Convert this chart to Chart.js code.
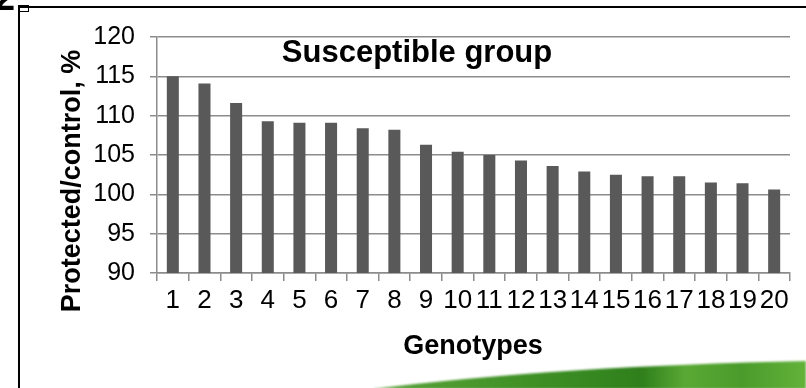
<!DOCTYPE html>
<html>
<head>
<meta charset="utf-8">
<script src="https://cdn.jsdelivr.net/npm/chart.js@4.4.1/dist/chart.umd.min.js"></script>
<style>
  html, body { margin: 0; padding: 0; background: #fff; }
  #wrap { width: 806px; height: 388px; }
</style>
</head>
<body>
<div id="wrap"><canvas id="c" width="806" height="388"></canvas></div>
<script>
// Genotypes 1..20, protected/control ratio in percent
const genotypes = ['1','2','3','4','5','6','7','8','9','10','11','12','13','14','15','16','17','18','19','20'];
const ratioPercent = [115.0, 114.1, 111.6, 109.3, 109.1, 109.1, 108.4, 108.2, 106.3, 105.4,
                      105.0, 104.3, 103.6, 102.9, 102.5, 102.3, 102.3, 101.5, 101.4, 100.6];
const yMin = 90, yMax = 120, yStep = 5;

const chartTitle = 'Susceptible group';
const yTitle = 'Protected/control, %';
const xTitle = 'Genotypes';
const panelLetter = '2';

const FONT = '"Liberation Sans", Arial, sans-serif';
const GRID = '#8c8c8c';

// Page decorations: white background, panel frame, green band, titles
const decor = {
  id: 'decor',
  beforeDraw(chart) {
    const ctx = chart.ctx;
    ctx.save();
    ctx.fillStyle = '#fff';
    ctx.fillRect(0, 0, chart.width, chart.height);

    // green band along the bottom right
    const g = ctx.createLinearGradient(375, 0, 806, 0);
    g.addColorStop(0.0, '#5aa33a');
    g.addColorStop(0.35, '#3f9126');
    g.addColorStop(0.62, '#2f801c');
    g.addColorStop(0.72, '#5aa935');
    g.addColorStop(0.85, '#4a9b2b');
    g.addColorStop(1.0, '#62b23a');
    ctx.beginPath();
    ctx.moveTo(372, 389);
    ctx.quadraticCurveTo(560, 366, 806, 361);
    ctx.lineTo(806, 389);
    ctx.closePath();
    ctx.fillStyle = g;
    ctx.filter = 'blur(0.8px)';
    ctx.fill();
    ctx.filter = 'none';

    // panel frame
    ctx.strokeStyle = '#000';
    ctx.lineWidth = 2;
    ctx.beginPath();
    ctx.moveTo(19, 389);
    ctx.lineTo(19, 7);
    ctx.lineTo(806, 7);
    ctx.stroke();
    ctx.lineWidth = 1;
    ctx.strokeRect(18.5, 5.5, 10, 6);

    // panel letter, mostly off the top edge
    ctx.fillStyle = '#000';
    ctx.font = 'bold 36px ' + FONT;
    ctx.textAlign = 'left';
    ctx.textBaseline = 'alphabetic';
    ctx.fillText(panelLetter, -5, 10);
    ctx.restore();
  },
  afterDraw(chart) {
    const ctx = chart.ctx;
    ctx.save();
    ctx.fillStyle = '#000';
    ctx.textAlign = 'center';
    ctx.textBaseline = 'alphabetic';
    ctx.font = 'bold 31px ' + FONT;
    ctx.fillText(chartTitle, 417, 62);

    ctx.font = 'bold 27px ' + FONT;
    ctx.fillText(xTitle, 473, 354);

    ctx.translate(80, 181);
    ctx.rotate(-Math.PI / 2);
    ctx.fillText(yTitle, 0, 0);
    ctx.restore();
  }
};

new Chart(document.getElementById('c'), {
  type: 'bar',
  data: {
    labels: genotypes,
    datasets: [{
      data: ratioPercent,
      backgroundColor: '#595959',
      borderWidth: 0,
      barPercentage: 0.38,
      categoryPercentage: 1.0
    }]
  },
  options: {
    responsive: false,
    devicePixelRatio: 1,
    animation: false,
    layout: { padding: { top: 37, right: 16, left: 0, bottom: 0 } },
    plugins: {
      legend: { display: false },
      tooltip: { enabled: false },
      title: { display: false }
    },
    scales: {
      x: {
        offset: true,
        grid: { offset: true, drawOnChartArea: false, drawTicks: true, tickLength: 8, color: GRID, lineWidth: 1.5 },
        border: { color: GRID, width: 1.5 },
        ticks: {
          autoSkip: false, maxRotation: 0, minRotation: 0,
          color: '#000', font: { family: FONT, size: 26 }, padding: 4
        },
        afterFit(scale) { scale.height = 115; }
      },
      y: {
        min: yMin, max: yMax,
        grid: { color: GRID, lineWidth: 1.5, tickLength: 7, drawTicks: true },
        border: { color: GRID, width: 1.5 },
        ticks: {
          stepSize: yStep, color: '#000', font: { family: FONT, size: 25 }, padding: 15
        },
        afterFit(scale) { scale.width = 157; }
      }
    }
  },
  plugins: [decor]
});
</script>
</body>
</html>
